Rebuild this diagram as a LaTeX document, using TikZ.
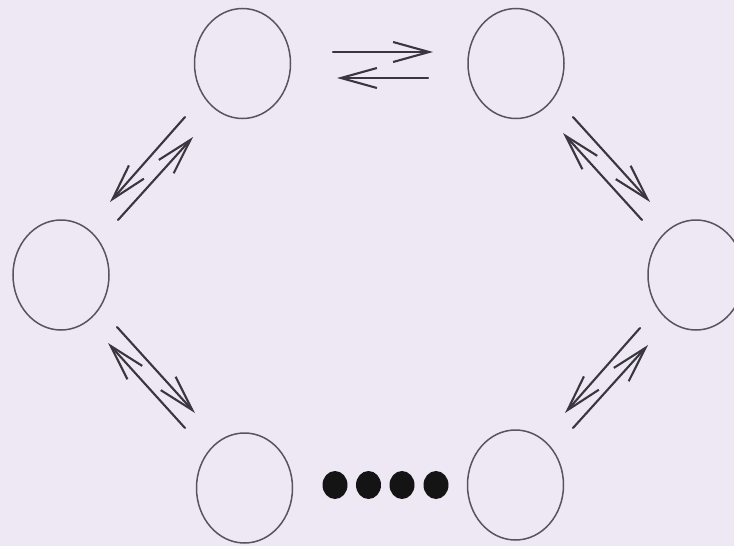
\documentclass[tikz,border=0pt]{standalone}
\usetikzlibrary{arrows.meta,shapes.geometric}
\definecolor{bgc}{RGB}{237,232,243}
\definecolor{ink}{RGB}{58,54,64}
\begin{document}
\begin{tikzpicture}[x=1pt,y=-1pt,
  cyc/.style={draw=ink!85, line width=1.5pt, ellipse, minimum width=96pt, minimum height=110pt, inner sep=0pt},
  eq/.style={draw=ink, line width=2.1pt, line cap=round, -{Straight Barb[length=36pt,width=20pt,line width=2.1pt]}},
  blob/.style={fill=black!92, ellipse, minimum width=25pt, minimum height=28pt, inner sep=0pt}]
\fill[bgc] (0,0) rectangle (734,546);
\useasboundingbox (0,0) rectangle (734,546);
% states
\node[cyc] (tl) at (242.5,63.5) {};
\node[cyc] (tr) at (516,63.5) {};
\node[cyc] (ml) at (61,275) {};
\node[cyc] (mr) at (696,275) {};
\node[cyc] (bl) at (244.5,488) {};
\node[cyc] (br) at (515.5,485) {};
% dots
\node[blob] (d1) at (335,485) {};
\node[blob] (d2) at (368.5,485) {};
\node[blob] (d3) at (402,485) {};
\node[blob] (d4) at (436,485) {};
% arrow end points
\coordinate (t1s) at (333,52);  \coordinate (t1e) at (433,52);
\coordinate (t2s) at (428,78);  \coordinate (t2e) at (337,78);
\coordinate (lu1s) at (185,117); \coordinate (lu1e) at (110,202);
\coordinate (lu2s) at (118,220); \coordinate (lu2e) at (193,137);
\coordinate (ru1s) at (573,117); \coordinate (ru1e) at (650,202);
\coordinate (ru2s) at (642,220); \coordinate (ru2e) at (563,133);
\coordinate (ll1s) at (117,327); \coordinate (ll1e) at (195,413);
\coordinate (ll2s) at (185,428); \coordinate (ll2e) at (108,343);
\coordinate (rl1s) at (640,328); \coordinate (rl1e) at (565,413);
\coordinate (rl2s) at (573,428); \coordinate (rl2e) at (648,345);
% equilibrium arrows
\draw[eq] (t1s) -- (t1e);
\draw[eq] (t2s) -- (t2e);
\draw[eq] (lu1s) -- (lu1e);
\draw[eq] (lu2s) -- (lu2e);
\draw[eq] (ru1s) -- (ru1e);
\draw[eq] (ru2s) -- (ru2e);
\draw[eq] (ll1s) -- (ll1e);
\draw[eq] (ll2s) -- (ll2e);
\draw[eq] (rl1s) -- (rl1e);
\draw[eq] (rl2s) -- (rl2e);
\end{tikzpicture}
\end{document}
